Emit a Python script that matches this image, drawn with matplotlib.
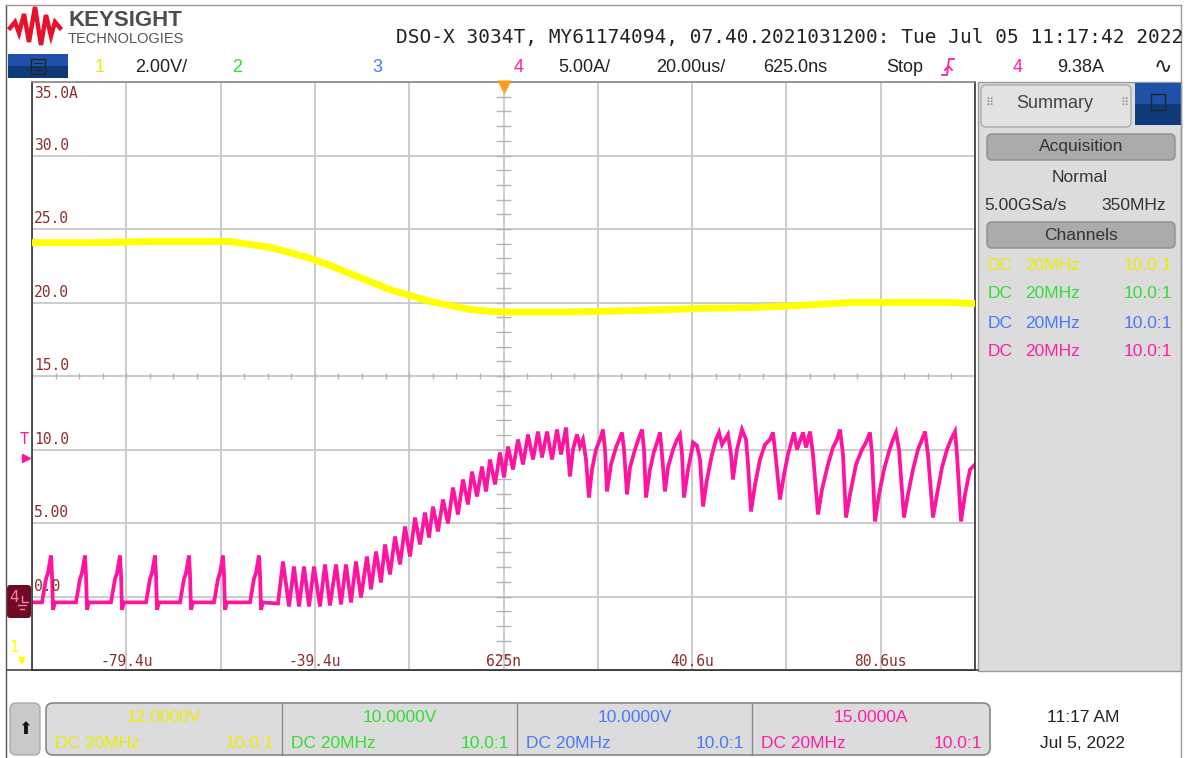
import numpy as np
import matplotlib.pyplot as plt
from matplotlib.patches import Rectangle, FancyBboxPatch

plt.rcParams['font.family'] = ['DejaVu Sans']

# ---- data (time in us) ----
# channel 1, volts (2.00 V/div, offset 12 V)
ch1_t = [-99.4, -85.0, -74.4, -63.8, -57.4, -53.2, -48.9, -44.7, -40.4, -36.2,
         -32.0, -27.7, -23.5, -19.2, -15.0, -10.8, -6.5, -2.3, 2.0, 6.2,
         12.6, 21.1, 31.7, 42.3, 52.9, 63.5, 74.1, 84.7, 95.3, 100.6]
ch1_v = [15.63, 15.63, 15.66, 15.66, 15.66, 15.58, 15.50, 15.36, 15.20, 15.01,
         14.79, 14.57, 14.35, 14.19, 14.03, 13.92, 13.81, 13.76, 13.74, 13.74,
         13.74, 13.76, 13.79, 13.84, 13.86, 13.92, 14.00, 14.00, 14.00, 13.97]

# channel 4, amps (5.00 A/div, offset 15 A) - peaks and troughs of the trace
ch4_t = [-99.4,
         -97.28, -96.43, -96.01, -95.37, -95.16, -94.95, -94.52,
         -90.07, -89.22, -88.80, -88.16, -87.95, -87.74, -87.31,
         -82.65, -81.80, -81.37, -80.74, -80.52, -80.31, -79.89,
         -75.22, -74.37, -73.95, -73.31, -73.10, -72.89, -72.46,
         -68.01, -67.16, -66.74, -66.10, -65.89, -65.68, -65.25,
         -60.80, -59.95, -59.53, -58.89, -58.68, -58.47, -58.04,
         -53.16, -52.32, -51.89, -51.26, -51.04, -50.83, -50.41,
         -47.23, -46.17, -44.89, -43.83, -42.77, -41.71, -40.65, -39.59,
         -38.32, -37.26, -36.20, -34.92, -33.86, -32.80, -31.74, -30.68,
         -29.62, -28.35, -27.50, -26.44, -25.38, -24.53, -23.47, -22.41,
         -21.35, -20.29, -19.23, -18.17, -17.11, -16.05, -15.20, -14.35,
         -13.29, -12.23, -11.17, -10.11, -9.05, -7.99, -6.93, -6.08,
         -5.02, -3.96, -3.11, -2.26, -1.20, -0.14, 0.71, 1.55,
         2.62, 3.68, 4.74, 5.80, 6.86, 7.92, 8.77, 9.83,
         10.89, 11.95, 12.80, 13.86, 14.70,
         15.34, 16.19, 16.83, 17.46, 18.10, 18.73,
         19.37, 20.22, 21.07, 21.70, 22.13, 22.55,
         23.40, 24.46, 25.31, 25.73, 26.16, 26.79,
         27.43, 28.49, 29.34, 29.97, 30.40, 30.82,
         31.67, 32.52, 33.37, 33.79, 34.22, 34.85,
         35.49, 36.55, 37.40, 38.03, 38.46, 38.88,
         39.73, 40.58, 40.79, 41.64, 42.28, 42.91,
         43.76, 44.82, 45.67, 46.31, 46.94, 47.58, 48.21, 48.85, 49.27,
         50.12, 51.18, 52.03, 52.46, 53.09,
         53.95, 55.00, 56.06, 57.12, 57.76, 58.39, 59.24,
         60.09, 60.94, 62.21, 62.85, 64.12, 64.76, 65.61, 66.24, 67.30,
         68.15, 69.42, 70.48, 71.33, 71.97, 72.60, 73.24,
         74.09, 75.36, 76.63, 77.48, 78.33, 78.76, 79.39,
         80.24, 81.30, 82.36, 83.21, 83.85, 84.48, 85.54,
         86.39, 87.45, 88.51, 89.36, 90.00, 90.63, 91.69,
         92.54, 93.60, 94.66, 95.51, 96.36, 96.78, 97.63,
         98.48, 99.54, 100.6]
ch4_a = [-0.4,
         -0.4, 1.2, 1.6, 2.8, 1.5, -0.9, -0.4,
         -0.4, 1.2, 1.6, 2.8, 1.5, -0.9, -0.4,
         -0.4, 1.2, 1.6, 2.8, 1.5, -0.9, -0.4,
         -0.4, 1.2, 1.6, 2.8, 1.5, -0.9, -0.4,
         -0.4, 1.2, 1.6, 2.8, 1.5, -0.9, -0.4,
         -0.4, 1.2, 1.6, 2.8, 1.5, -0.9, -0.4,
         -0.4, 1.2, 1.6, 2.8, 1.5, -0.9, -0.4,
         -0.48, 2.38, -0.68, 2.04, -0.68, 2.04, -0.68, 2.04,
         -0.68, 2.18, -0.61, 2.18, -0.54, 2.18, -0.41, 2.38,
         -0.07, 2.72, 0.48, 3.06, 0.95, 3.54, 1.50, 4.08,
         2.18, 4.76, 2.72, 5.37, 3.54, 5.71, 4.01, 6.12,
         4.42, 6.60, 4.97, 7.41, 5.58, 7.96, 6.26, 8.50,
         6.80, 8.84, 7.14, 9.32, 7.62, 9.80, 8.10, 10.20,
         8.64, 10.68, 8.98, 11.02, 9.32, 11.22, 9.46, 11.22,
         9.32, 11.36, 9.66, 11.50, 8.16,
         10.00, 11.02, 10.20, 10.68, 9.32, 6.73,
         8.64, 10.00, 10.68, 11.36, 10.00, 7.14,
         8.98, 10.14, 10.82, 11.16, 10.00, 6.94,
         8.78, 10.00, 10.82, 11.36, 10.00, 6.73,
         8.64, 9.86, 10.68, 11.16, 9.66, 7.14,
         8.78, 10.00, 10.68, 11.02, 9.66, 6.73,
         8.64, 10.00, 10.48, 10.27, 9.32, 6.12,
         7.96, 9.66, 10.68, 11.16, 10.34, 10.68, 11.02, 9.66, 7.96,
         10.00, 11.36, 10.68, 8.98, 5.78,
         7.62, 9.32, 10.34, 10.68, 11.16, 9.32, 6.60,
         8.30, 9.66, 11.16, 10.00, 11.16, 10.14, 11.22, 9.66, 5.58,
         7.28, 8.98, 10.14, 10.68, 11.36, 9.66, 5.37,
         6.94, 8.98, 10.00, 10.48, 11.16, 9.66, 5.10,
         6.94, 8.64, 9.86, 10.68, 11.16, 10.00, 5.37,
         6.94, 8.64, 10.00, 10.68, 11.22, 9.66, 5.37,
         6.94, 8.78, 10.00, 10.68, 11.22, 9.66, 5.10,
         6.94, 8.64, 8.98]

x_labels = ['-79.4u', '-39.4u', '625n', '40.6u', '80.6us']
x_label_pos = [-79.4, -39.4, 0.625, 40.6, 80.6]
y_labels = ['35.0A', '30.0', '25.0', '20.0', '15.0', '10.0', '5.00', '0.0']
y_label_pos = [35, 30, 25, 20, 15, 10, 5, 0]

chan_colors = ['#eded00', '#33dd33', '#4a78ff', '#ff1fa5']
chan_offsets = ['12.0000V', '10.0000V', '10.0000V', '15.0000A']

YEL = '#ffff00'
PINK = '#ff149f'
LBL = '#8a2e2e'
UI = ['Liberation Sans', 'DejaVu Sans']

W, H = 1191, 758
fig = plt.figure(figsize=(W / 100, H / 100), dpi=100)

# background overlay in pixel coords
ov = fig.add_axes([0, 0, 1, 1], zorder=0)
ov.set_xlim(0, W)
ov.set_ylim(H, 0)
ov.axis('off')

# screenshot frame
ov.plot([6, 6], [5, H], color='#555', lw=1)
ov.plot([6, 1181], [5, 5], color='#999', lw=1)
ov.plot([1181, 1181], [5, H], color='#999', lw=1)

# keysight logo
logo_x = [10, 15, 19, 24, 29, 35, 41, 46, 51, 55, 60]
logo_y = [28, 22, 33, 14, 42, 7, 45, 15, 36, 22, 28]
ov.plot(logo_x, logo_y, color='#e8112d', lw=3.2, solid_joinstyle='miter')
ov.text(68, 21, 'KEYSIGHT', fontsize=16, fontweight='bold', color='#4d4d4d',
        va='center', family=['Liberation Sans'])
ov.text(68, 39, 'TECHNOLOGIES', fontsize=10.5, color='#555',
        va='center', family=['Liberation Sans'])

ov.text(1183, 37, 'DSO-X 3034T, MY61174094, 07.40.2021031200: Tue Jul 05 11:17:42 2022',
        fontsize=14, family=['DejaVu Sans Mono'], color='#222', ha='right', va='center')

# second row
ov.add_patch(Rectangle((8, 54), 60, 12, fc='#2050a8', ec='none'))
ov.add_patch(Rectangle((8, 66), 60, 12, fc='#0f3a78', ec='none'))
ov.add_patch(Rectangle((31, 59), 14, 15, fc='none', ec='#222', lw=1))
for yy in [63, 66.5, 70]:
    ov.plot([34, 42], [yy, yy], color='#222', lw=0.8)

row = 67
ov.text(95, row, '1', color=chan_colors[0], fontsize=13, family=UI, va='center')
ov.text(135, row, '2.00V/', color='#222', fontsize=13, family=UI, va='center')
ov.text(232, row, '2', color=chan_colors[1], fontsize=13, family=UI, va='center')
ov.text(372, row, '3', color=chan_colors[2], fontsize=13, family=UI, va='center')
ov.text(514, row, '4', color=chan_colors[3], fontsize=13, family=UI, va='center')
ov.text(558, row, '5.00A/', color='#222', fontsize=13, family=UI, va='center')
ov.text(656, row, '20.00us/', color='#222', fontsize=13, family=UI, va='center')
ov.text(763, row, '625.0ns', color='#222', fontsize=13, family=UI, va='center')
ov.text(886, row, 'Stop', color='#222', fontsize=13, family=UI, va='center')
ov.plot([942, 947, 949, 954], [75, 75, 59, 59], color=chan_colors[3], lw=1.3)
ov.plot([945, 948.5, 952], [70, 66, 70], color=chan_colors[3], lw=1.3)
ov.text(1013, row, '4', color=chan_colors[3], fontsize=13, family=UI, va='center')
ov.text(1057, row, '9.38A', color='#222', fontsize=13, family=UI, va='center')
ov.text(1163, row, '∿', color='#222', fontsize=16, ha='center', va='center')

# summary panel
ov.add_patch(Rectangle((978, 82), 203, 589, fc='#dcdcdc', ec='#999', lw=1))
ov.add_patch(FancyBboxPatch((981, 85), 150, 42, boxstyle='round,pad=0,rounding_size=5',
                            fc='#e2e2e2', ec='#aaa', lw=1))
ov.add_patch(Rectangle((1135, 83), 46, 21, fc='#2050a8', ec='none'))
ov.add_patch(Rectangle((1135, 104), 46, 21, fc='#0f3a78', ec='none'))
ov.add_patch(Rectangle((1151, 94), 14, 16, fc='none', ec='#222', lw=1))
ov.text(989, 103, '⠿', color='#888', fontsize=8, ha='center', va='center')
ov.text(1124, 103, '⠿', color='#888', fontsize=8, ha='center', va='center')
ov.text(1055, 103, 'Summary', color='#444', fontsize=13, family=UI, ha='center', va='center')
for yb, lab in [(134, 'Acquisition'), (222, 'Channels')]:
    ov.add_patch(FancyBboxPatch((987, yb), 188, 26, boxstyle='round,pad=0,rounding_size=5',
                                fc='#ababab', ec='#8e8e8e', lw=1))
    ov.text(1081, yb + 13, lab, color='#333', fontsize=12.5, family=UI, ha='center', va='center')
ov.text(1080, 177, 'Normal', color='#333', fontsize=12.5, family=UI, ha='center', va='center')
ov.text(984, 205, '5.00GSa/s', color='#333', fontsize=12.5, family=UI, va='center')
ov.text(1166, 205, '350MHz', color='#333', fontsize=12.5, family=UI, ha='right', va='center')
for i, c in enumerate(chan_colors):
    yy = 265 + i * 29
    ov.text(988, yy, 'DC', color=c, fontsize=12.5, family=UI, va='center')
    ov.text(1025, yy, '20MHz', color=c, fontsize=12.5, family=UI, va='center')
    ov.text(1172, yy, '10.0:1', color=c, fontsize=12.5, family=UI, ha='right', va='center')

# left margin markers
ov.text(24, 440, 'T', color=PINK, fontsize=11, family=['DejaVu Sans Mono'], ha='center', va='center')
ov.plot([26], [458], marker='>', color=PINK, ms=6)
ov.add_patch(FancyBboxPatch((7, 585), 24, 33, boxstyle='round,pad=0,rounding_size=3',
                            fc='#6e0a22', ec='none'))
ov.text(14, 598, '4', color='#ff7ab8', fontsize=11, ha='center', va='center')
ov.plot([22, 22, 28], [596, 602, 602], color='#ff7ab8', lw=1)
ov.plot([18, 26], [605, 605], color='#ff7ab8', lw=1)
ov.plot([20, 24], [609, 609], color='#ff7ab8', lw=1)
ov.text(14, 648, '1', color=YEL, fontsize=11, ha='center', va='center')
ov.annotate('', xy=(22, 668), xytext=(22, 655),
            arrowprops=dict(arrowstyle='-|>', color=YEL, lw=1.2))
ov.plot([7, 978], [670, 670], color='#444', lw=1.2)

# bottom bar
ov.add_patch(FancyBboxPatch((10, 703), 30, 52, boxstyle='round,pad=0,rounding_size=6',
                            fc='#c9c9c9', ec='#aaa', lw=1))
ov.text(25, 729, '⬆', color='#111', fontsize=12, ha='center', va='center')
ov.add_patch(FancyBboxPatch((46, 703), 944, 52, boxstyle='round,pad=0,rounding_size=7',
                            fc='#dcdcdc', ec='#888', lw=1.2))
cells = [46, 282, 517, 752, 990]
for i in range(4):
    x0, x1 = cells[i], cells[i + 1]
    if i > 0:
        ov.plot([x0, x0], [703, 755], color='#888', lw=1)
    c = chan_colors[i]
    ov.text((x0 + x1) / 2, 718, chan_offsets[i], color=c, fontsize=12.5, family=UI,
            ha='center', va='center')
    ov.text(x0 + 9, 744, 'DC 20MHz', color=c, fontsize=12.5, family=UI, va='center')
    ov.text(x1 - 8, 744, '10.0:1', color=c, fontsize=12.5, family=UI, ha='right', va='center')
ov.text(1083, 718, '11:17 AM', color='#222', fontsize=12.5, family=UI, ha='center', va='center')
ov.text(1083, 744, 'Jul 5, 2022', color='#222', fontsize=12.5, family=UI, ha='center', va='center')

# ---- the graticule ----
ax = fig.add_axes([32 / W, 1 - 670 / H, 943 / W, 588 / H], zorder=1)
ax.set_xlim(-99.4, 100.6)
ax.set_ylim(-5, 35)
ax.set_xticks(np.arange(-99.4, 100.7, 20))
ax.set_yticks(np.arange(-5, 35.1, 5))
ax.grid(True, color='#c8c8c8', lw=1.3)
ax.tick_params(length=0, labelbottom=False, labelleft=False)
ax.spines['left'].set_color('#333')
ax.spines['bottom'].set_color('#333')
ax.spines['right'].set_color('#333')
ax.spines['top'].set_color('#888')
for s in ax.spines.values():
    s.set_linewidth(1.2)

# centre-line minor ticks
ax.vlines(np.arange(-99.4, 100.7, 5), 14.8, 15.2, color='#b5b5b5', lw=1)
ax.hlines(np.arange(-5, 35.1, 1), -0.9, 2.15, color='#b5b5b5', lw=1)

for lab, v in zip(y_labels, y_label_pos):
    if v == 35:
        ax.text(-99.0, 34.75, lab, color=LBL, fontsize=10.5, family=['DejaVu Sans Mono'],
                va='top')
    else:
        ax.text(-99.0, v + 0.2, lab, color=LBL, fontsize=10.5, family=['DejaVu Sans Mono'],
                va='bottom')
for lab, t in zip(x_labels, x_label_pos):
    ax.text(t, -4.45, lab, color=LBL, fontsize=10.5, family=['DejaVu Sans Mono'],
            ha='center', va='center')

ax.plot(ch4_t, ch4_a, color=PINK, lw=2.7, solid_joinstyle='miter')

ax2 = ax.twinx()
ax2.set_ylim(4, 20)
ax2.axis('off')
ax2.plot(ch1_t, ch1_v, color=YEL, lw=5)

# trigger position marker
top = fig.add_axes([0, 0, 1, 1], zorder=3)
top.set_xlim(0, W)
top.set_ylim(H, 0)
top.axis('off')
top.plot([504], [87], marker='v', color='#ff9a1a', ms=10, mec='none')

fig.savefig('out.png', dpi=100)
